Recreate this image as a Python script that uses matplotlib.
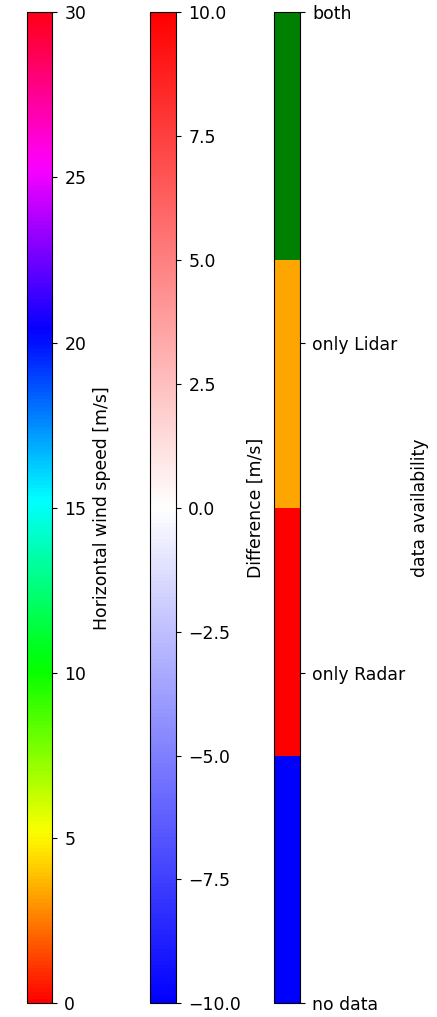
import matplotlib
matplotlib.use("Agg")
import matplotlib.pyplot as plt
import matplotlib.colors as mcolors
import matplotlib.cm as cm

# ── colour scales ─────────────────────────────────────────────────────────────
WIND_RANGE  = (0, 30)
WIND_TICKS  = [0, 5, 10, 15, 20, 25, 30]
WIND_LABEL  = "Horizontal wind speed [m/s]"

DIFF_RANGE  = (-10.0, 10.0)
DIFF_TICKS  = [-10.0, -7.5, -5.0, -2.5, 0.0, 2.5, 5.0, 7.5, 10.0]
DIFF_LABEL  = "Difference [m/s]"

AVAIL_COLORS = ["blue", "red", "orange", "green"]
AVAIL_TICKS  = [0, 1, 2, 3]
AVAIL_NAMES  = ["no data", "only Radar", "only Lidar", "both"]
AVAIL_LABEL  = "data availability"

plt.rcParams["font.size"] = 12.4
plt.rcParams["ytick.major.pad"] = 5.8
plt.rcParams["ytick.major.size"] = 3.3

W, H = 437, 1017
fig = plt.figure(figsize=(W / 100, H / 100), dpi=100)

def cax_at(x0, x1, y0=12.3, y1=1003.3):
    # pixel box -> figure fraction
    return fig.add_axes([x0 / W, (H - y1) / H, (x1 - x0) / W, (y1 - y0) / H])

ax_wind  = cax_at(26.7, 51.7)
ax_diff  = cax_at(150.0, 175.7)
ax_avail = cax_at(274.3, 299.7)

# wind speed
sm = cm.ScalarMappable(norm=mcolors.Normalize(*WIND_RANGE), cmap="hsv")
cb = fig.colorbar(sm, cax=ax_wind, ticks=WIND_TICKS)
cb.set_label(WIND_LABEL, labelpad=4.5)

# radar - lidar difference
sm = cm.ScalarMappable(norm=mcolors.Normalize(*DIFF_RANGE), cmap="bwr")
cb = fig.colorbar(sm, cax=ax_diff, ticks=DIFF_TICKS)
cb.ax.set_yticklabels([f"{t:.1f}".replace("-", "\u2212") for t in DIFF_TICKS])
cb.set_label(DIFF_LABEL, labelpad=4)

# availability classes
sm = cm.ScalarMappable(norm=mcolors.Normalize(AVAIL_TICKS[0], AVAIL_TICKS[-1]),
                       cmap=mcolors.ListedColormap(AVAIL_COLORS))
cb = fig.colorbar(sm, cax=ax_avail, ticks=AVAIL_TICKS)
cb.ax.set_yticklabels(AVAIL_NAMES)
cb.set_label(AVAIL_LABEL, labelpad=4)

fig.savefig("out.png", dpi=100)
